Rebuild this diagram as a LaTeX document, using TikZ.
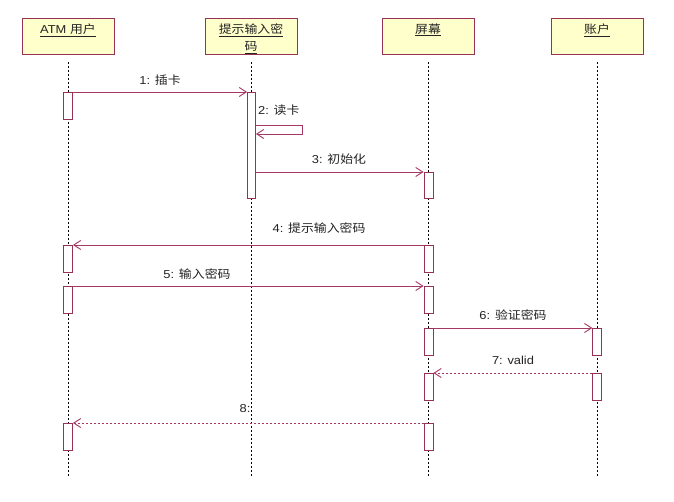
\documentclass[tikz,border=0pt]{standalone}
\usepackage{fontspec}
\usepackage{graphicx}
\setmainfont{Liberation Sans}
\newfontfamily\cjk{Noto Sans CJK SC}
\usetikzlibrary{arrows.meta}
\definecolor{boxborder}{RGB}{150,50,85}
\definecolor{boxfill}{RGB}{255,255,204}
\definecolor{msgcol}{RGB}{165,55,100}
\definecolor{txtcol}{RGB}{35,35,35}
\newcommand\sx[1]{\scalebox{1.12}[1]{#1}}
\tikzset{
  header/.style={draw=boxborder, fill=boxfill, line width=1pt, minimum width=92pt, minimum height=36pt, inner sep=0pt},
  hlabel/.style={text=txtcol, font=\fontsize{11.5}{17}\selectfont, inner sep=0pt, align=center},
  lifeline/.style={draw=black, line width=0.9pt, dash pattern=on 1.6pt off 2.4pt},
  actbox/.style={draw=boxborder, fill=white, line width=0.9pt, minimum width=9pt, inner sep=0pt},
  msg/.style={draw=msgcol, line width=0.9pt, -{Straight Barb[length=7pt,width=9pt,line width=0.9pt]}},
  ret/.style={msg, dash pattern=on 2pt off 2pt},
  mlabel/.style={text=txtcol, font=\fontsize{11.5}{13}\selectfont, inner sep=0pt}
}
\begin{document}
\begin{tikzpicture}[x=1pt,y=-1pt]
\useasboundingbox (0,0) rectangle (674,502);
\fill[white] (0,0) rectangle (674,502);
% header boxes
\node[header] (H1) at (68,37) {};
\node[header] (H2) at (251,37) {};
\node[header] (H3) at (428,37) {};
\node[header] (H4) at (597,37) {};
\node[hlabel] (T1) at (68,30) {\sx{\underline{ATM {\cjk 用户}}}};
\node[hlabel] (T2) at (251,38.5) {\sx{\underline{\cjk 提示输入密}}\\\sx{\underline{\cjk 码}}};
\node[hlabel] (T3) at (428,30) {\sx{\underline{\cjk 屏幕}}};
\node[hlabel] (T4) at (597,30) {\sx{\underline{\cjk 账户}}};
% lifeline ends
\coordinate (E1s) at (68,62);  \coordinate (E1e) at (68,477);
\coordinate (E2s) at (251.5,62); \coordinate (E2e) at (251.5,477);
\coordinate (E3s) at (428.5,62); \coordinate (E3e) at (428.5,477);
\coordinate (E4s) at (597,62); \coordinate (E4e) at (597,477);
\draw[lifeline] (E1s) -- (E1e);
\draw[lifeline] (E2s) -- (E2e);
\draw[lifeline] (E3s) -- (E3e);
\draw[lifeline] (E4s) -- (E4e);
% activation boxes
\node[actbox, minimum height=27pt, anchor=north] (A1) at (68,92) {};
\node[actbox, minimum width=8pt, minimum height=106pt, anchor=north] (A2) at (251.5,92) {};
\node[actbox, minimum height=26pt, anchor=north] (A3) at (428.5,172) {};
\node[actbox, minimum height=27pt, anchor=north] (A4) at (68,245) {};
\node[actbox, minimum height=27pt, anchor=north] (A5) at (428.5,245) {};
\node[actbox, minimum height=27pt, anchor=north] (A6) at (68,286) {};
\node[actbox, minimum height=27pt, anchor=north] (A7) at (428.5,286) {};
\node[actbox, minimum height=27pt, anchor=north] (A8) at (428.5,328) {};
\node[actbox, minimum width=8.5pt, minimum height=27pt, anchor=north] (A9) at (597,328) {};
\node[actbox, minimum height=27pt, anchor=north] (A10) at (428.5,373) {};
\node[actbox, minimum width=8.5pt, minimum height=27pt, anchor=north] (A11) at (597,373) {};
\node[actbox, minimum height=27pt, anchor=north] (A12) at (68,423) {};
\node[actbox, minimum height=27pt, anchor=north] (A13) at (428.5,423) {};
% messages
\draw[msg] (A1.north east) -- (A2.north west);
\coordinate (S1) at (A2.east |- 0,125);
\coordinate (S2) at (302,125);
\coordinate (S3) at (302,134);
\coordinate (S4) at (A2.east |- 0,134);
\draw[msg] (S1) -- (S2) -- (S3) -- (S4);
\draw[msg] (A2.east |- A3.north) -- (A3.north west);
\draw[msg] (A5.north west) -- (A4.north east);
\draw[msg] (A6.north east) -- (A7.north west);
\draw[msg] (A8.north east) -- (A9.north west);
\draw[ret] (A11.north west) -- (A10.north east);
\draw[ret] (A13.north west) -- (A12.north east);
% labels
\node[mlabel] (L1) at (160,80) {\sx{1: {\cjk 插卡}}};
\node[mlabel, anchor=west] (L2) at (258,110) {\sx{2: {\cjk 读卡}}};
\node[mlabel] (L3) at (339,159) {\sx{3: {\cjk 初始化}}};
\node[mlabel] (L4) at (319,228) {\sx{4: {\cjk 提示输入密码}}};
\node[mlabel] (L5) at (197,274) {\sx{5: {\cjk 输入密码}}};
\node[mlabel] (L6) at (513,315) {\sx{6: {\cjk 验证密码}}};
\node[mlabel] (L7) at (513,360) {\sx{7: valid}};
\node[mlabel] (L8) at (245,409) {\sx{8:}};
\end{tikzpicture}
\end{document}
